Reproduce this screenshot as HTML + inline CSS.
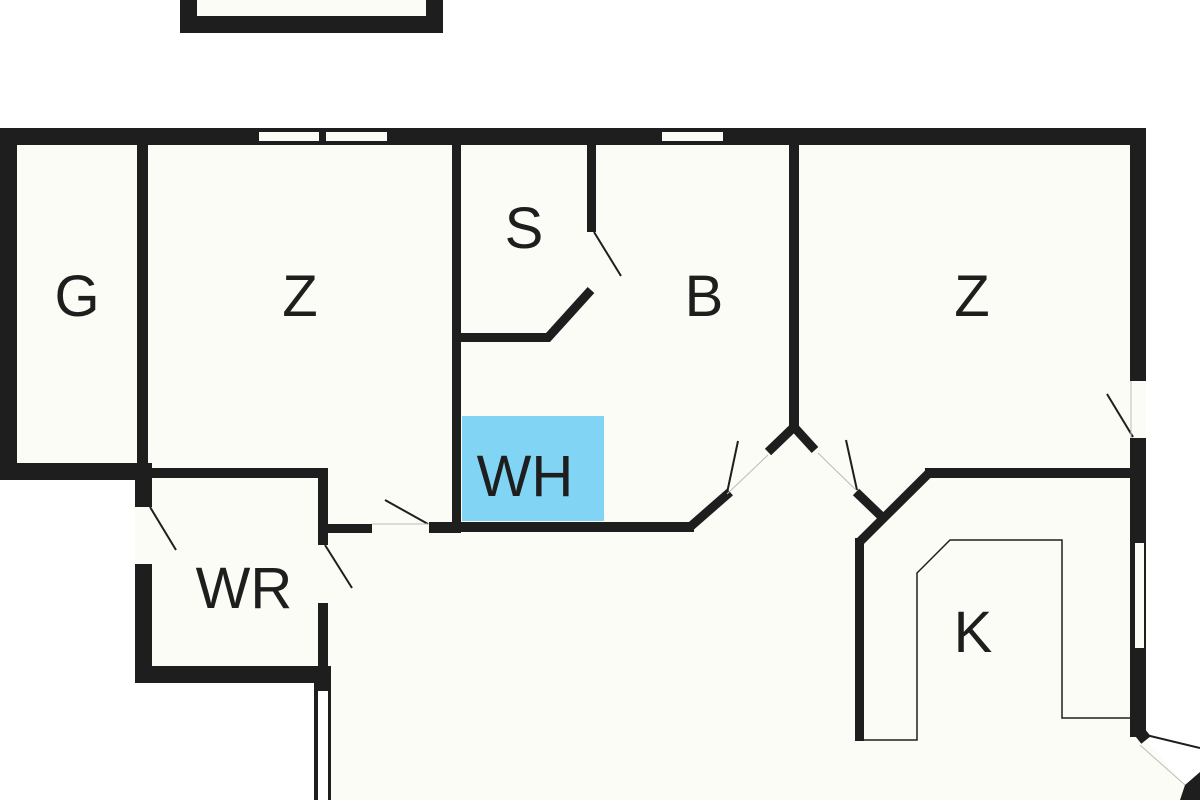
<!DOCTYPE html>
<html><head><meta charset="utf-8"><style>
html,body{margin:0;padding:0;background:#fff;}
svg{display:block}
text{font-family:"Liberation Sans",sans-serif;font-size:58px;fill:#1e1e1e;text-anchor:middle}
</style></head><body>
<svg width="1200" height="800" viewBox="0 0 1200 800" xmlns="http://www.w3.org/2000/svg">
<rect width="1200" height="800" fill="#fff"/>
<!-- top box -->
<rect x="197" y="0" width="229" height="16" fill="#fcfcf6"/>
<path d="M180 0 H197 V16 H426 V0 H443 V33 H180 Z" fill="#1e1e1e"/>
<!-- interior fill -->
<polygon points="0,128 1146,128 1146,740 1185,785 1200,800 315,800 315,683 135,683 135,478 0,478" fill="#fcfcf6"/>
<g fill="#1e1e1e">
<!-- top wall -->
<rect x="0" y="128" width="1146" height="17"/>
<!-- left wall -->
<rect x="0" y="128" width="17" height="352"/>
<rect x="0" y="463" width="152" height="17"/>
<!-- G/Z partition -->
<rect x="137" y="145" width="11" height="335"/>
<!-- WR left wall -->
<rect x="135" y="463" width="17" height="44"/>
<rect x="135" y="564" width="17" height="119"/>
<rect x="135" y="666" width="196" height="17"/>
<!-- WR top wall -->
<rect x="148" y="468" width="180" height="10"/>
<!-- WR right wall -->
<rect x="318" y="468" width="10" height="77"/>
<rect x="318" y="603" width="10" height="80"/>
<!-- corridor walls -->
<rect x="328" y="524" width="44" height="9"/>
<rect x="429" y="522" width="32" height="11"/>
<!-- Z/S partition -->
<rect x="452" y="145" width="9" height="387"/>
<!-- S/B wall -->
<rect x="587" y="145" width="9" height="87"/>
<!-- bottom wall of B -->
<rect x="452" y="522" width="242" height="10"/>
<!-- B/Z wall -->
<rect x="789" y="145" width="10" height="285"/>
<!-- right wall -->
<rect x="1130" y="128" width="16" height="253"/>
<rect x="1130" y="438" width="16" height="299"/>
<!-- kitchen wall -->
<rect x="855" y="538" width="9" height="203"/>
<rect x="925" y="468" width="207" height="10"/>
</g>
<g stroke="#1e1e1e" fill="none" stroke-linecap="butt">
<path d="M461 337.5 H548 L591 290" stroke-width="9"/>
<path d="M690 527 L730 492" stroke-width="9"/>
<path d="M768 452 L794 427 L815 450" stroke-width="9"/>
<path d="M856 492 L882 517" stroke-width="9"/>
<path d="M859.5 542 L929 473" stroke-width="9"/>
<path d="M1138 730 L1146 740" stroke-width="12"/>
</g>
<!-- windows -->
<g fill="#fcfcf6">
<rect x="259" y="132" width="60" height="9"/>
<rect x="326" y="132" width="61" height="9"/>
<rect x="662" y="132" width="61" height="9"/>
<rect x="1135" y="543" width="9" height="105"/>
</g>
<!-- window at bottom left -->
<rect x="314" y="683" width="17" height="117" fill="#1e1e1e"/>
<rect x="318" y="691" width="10" height="109" fill="#fff"/>
<!-- door swings -->
<g stroke="#1e1e1e" stroke-width="2" fill="none">
<line x1="594" y1="232" x2="621" y2="276"/>
<line x1="150" y1="507" x2="176" y2="550"/>
<line x1="325" y1="545" x2="352" y2="588"/>
<line x1="428" y1="524" x2="385" y2="500"/>
<line x1="727" y1="493" x2="738" y2="441"/>
<line x1="857" y1="490" x2="846" y2="440"/>
<line x1="1133" y1="437" x2="1107" y2="394"/>
<line x1="1146" y1="735" x2="1200" y2="748"/>
<path d="M862 740 H917 V573 L950 540 H1062 V718 H1130" stroke-width="1.5"/>
</g>
<g stroke="#bbb" stroke-width="1" fill="none">
<line x1="372" y1="524" x2="429" y2="524"/>
<line x1="727" y1="494" x2="768" y2="455"/>
<line x1="818" y1="453" x2="856" y2="490"/>
<line x1="1131" y1="381" x2="1131" y2="438"/>
<line x1="1140" y1="745" x2="1185" y2="785"/>
</g>
<polygon points="1185,785 1200,772 1200,800 1180,800" fill="#1e1e1e"/>
<!-- WH highlight -->
<rect x="462" y="416" width="142" height="105" fill="#82d4f5"/>
<text x="77" y="316">G</text>
<text x="300" y="316">Z</text>
<text x="524" y="248">S</text>
<text x="704" y="316">B</text>
<text x="972" y="316">Z</text>
<text x="525" y="496">WH</text>
<text x="244" y="608">WR</text>
<text x="973" y="652">K</text>
</svg>
</body></html>
